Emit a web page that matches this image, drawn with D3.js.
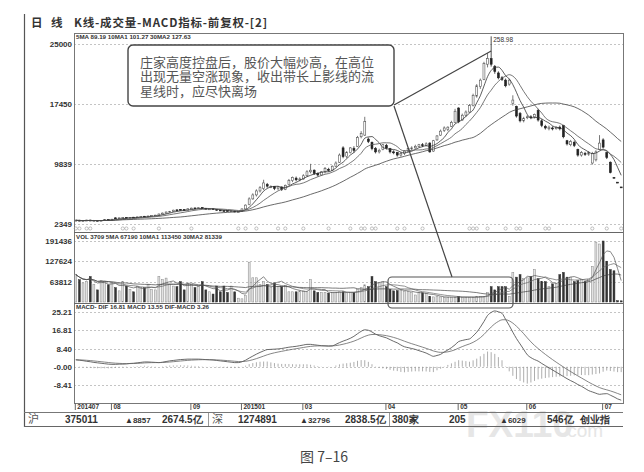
<!DOCTYPE html>
<html><head><meta charset="utf-8">
<script src="https://cdn.jsdelivr.net/npm/d3@7/dist/d3.min.js"></script>
<style>body{margin:0;background:#fff}svg{display:block}</style>
</head><body>
<svg id="c" width="644" height="472"></svg>
<script>
// ---------------- DATA ----------------
const opens = [27.6,28.3,27.3,27.8,28.4,27.5,28.1,27.4,28.0,29.0,28.3,31.2,30.4,31.1,31.8,31.0,32.0,31.4,32.3,33.2,
32.6,33.5,34.0,34.5,36.0,37.1,38.4,39.3,41.2,41.8,41.6,40.9,42.5,43.6,42.8,44.0,43.2,42.2,42.6,41.7,
41.0,40.4,40.2,39.8,39.8,38.6,39.2,42.4,48,55,60,65,68,73,69.5,70.5,68,70,67,73,
78,81,79,80,84,89,91,87,85,89,92,91,96,101,119,108,113,118,121,133,
135,130,126,118,114,117,122,118,114,113,110,112,115,118,119,121,123,122,125,115,
129,135,141,142,146,151,169,154,160,164,172,184,196,205,224,231,221,213,207,204,
199,175,171,162,153,157,158,158,166,153,146,143,144,143,145,147,128,123,126,117,
110,112,111,100,104,117,129,113,101,82,76,70];
const highs = [28.8,28.7,28.2,28.8,28.9,28.4,28.4,28.5,29.4,29.5,29.9,31.8,31.6,32.2,32.2,32.1,32.4,32.8,33.5,33.6,
33.9,34.4,35.0,36.6,37.8,39.2,39.9,41.5,41.9,42.3,42.0,43.1,44.0,44.2,44.5,44.6,43.6,43.0,43.0,42.1,
41.4,40.8,40.6,40.5,40.1,39.6,43.0,48.0,57,62,67,71,79,75,72,71,71,70.5,73,80,
83,83,82,86,91,99,92,88,90,95,94,97,102,112,121,115,120,121,134,140,
158,132,127,120,118,124,124,119,116,114,114,116,119,121,123,124,125,126,126,129,
135,142,146,146,153,168,170,162,166,174,187,199,206,227,238,258.98,223,215,209,206,
206,185,172,164,158,160,160,162,168,155,148,147,146,146,147,148,129,129,128,118,
115,114,115,114,116,135,131,114,102,82,76,70];
const lows = [27.2,27.0,26.9,27.5,27.3,27.2,27.0,27.2,27.8,27.9,28.1,30.1,30.2,30.8,30.7,30.8,31.1,31.2,32.0,32.2,
32.4,33.2,33.7,34.3,35.6,36.8,38.0,39.0,39.8,40.6,40.3,40.6,42.2,42.4,42.5,42.8,41.8,41.9,41.2,40.4,
39.8,39.2,39.5,39.4,38.2,38.3,38.8,41.8,47,54,58,63,66,69,68.5,66,66,65,66,72,
76,77,77,79,83,87,85,83,84,87,89,90,95,100,106,106,112,113,120,131,
134,125,116,112,112,116,117,112,111,108,108,110,114,116,118,120,120,121,113,114,
128,134,139,140,145,150,150,153,158,163,171,182,193,204,220,221,212,205,203,195,
197,172,157,151,151,155,155,156,152,145,142,141,141,142,141,131,122,121,120,108,
108,109,109,98,102,116,118,105,87,82,76,70];
const closes = [28.2,27.4,27.8,28.3,27.6,28.0,27.3,28.1,28.9,28.2,29.5,30.4,31.2,31.6,31.0,31.8,31.4,32.4,33.0,32.6,
33.5,34.0,34.6,36.0,37.2,38.5,39.4,40.8,40.2,41.0,40.8,42.6,43.4,42.8,43.9,43.1,42.2,42.5,41.6,40.8,
40.2,39.6,39.9,40.0,38.6,39.0,42.4,47.2,55,60,65,69,75,71,70.5,68,70,67,72,78,
82,79,80,84,89,91,87,85,89,93,91,96,100,110,108,113,119,116,132,137,
152,127,118,114,116,123,119,114,113,110,112,115,118,119,121,123,122,124,114,128,
134,140,144,145,151,165,152,160,164,172,185,197,204,225,231,224,215,207,205,197,
204,179,159,153,156,158,157,161,154,147,144,145,143,145,143,133,124,127,122,110,
113,111,113,112,114,125,120,107,88,82,76,70];
const volumes = [86000,70000,60000,65000,80000,55000,38000,67000,65000,54000,60000,45000,35000,64000,50000,40000,32000,50000,45000,45000,
55000,40000,38000,80000,70000,75000,55000,50000,48000,64000,38000,60000,55000,45000,50000,64000,38000,32000,25000,50000,
32000,50000,30000,50000,32000,12000,10000,20000,125000,76000,76000,55000,64000,55000,45000,60000,48000,48000,52000,32000,
32000,32000,35000,35000,32000,70000,35000,30000,30000,30000,28000,30000,30000,32000,32000,29000,30000,30000,40000,45000,
54000,48000,80000,64000,60000,64000,48000,40000,35000,36000,36000,34000,33000,30000,22000,29000,29000,26000,18000,16000,
17000,16000,14000,15000,15000,15000,18000,14000,15000,15000,15000,18000,18000,18000,30000,48000,38000,48000,48000,48000,
18000,93000,78000,86000,73000,76000,80000,102000,73000,64000,64000,48000,57000,57000,86000,93000,78000,78000,64000,67000,
70000,64000,70000,112000,188000,182000,191436,128000,102000,98000,4241,3709];
const difValues = [3.2,3.0,2.8,2.5,2.3,2.0,1.8,1.6,1.4,1.2,1.1,1.1,1.2,1.2,1.3,1.5,1.6,1.8,2.0,2.2,
2.2,2.1,2.0,1.9,2.1,2.4,2.7,2.9,3.1,3.3,3.4,3.5,3.5,3.5,3.5,3.4,3.3,3.2,3.1,2.9,
2.7,2.5,2.3,2.1,1.9,1.9,2.3,3.0,4.0,4.9,5.8,6.6,7.3,7.9,8.0,8.1,8.2,8.4,8.7,9.0,
9.2,9.4,9.7,10.0,10.3,10.3,10.1,9.9,9.7,9.6,9.5,9.6,10.3,11.1,11.8,12.4,13.1,14.0,15.2,16.3,
17.0,16.8,16.0,15.0,14.3,13.8,13.3,12.5,11.7,11.0,10.0,9.2,8.8,8.4,8.0,7.4,6.9,6.3,5.5,4.8,
5.2,5.7,6.8,7.7,8.8,10.1,11.6,12.1,12.5,12.8,14.2,15.9,18.2,20.8,23.6,25.0,25.7,25.3,24.6,21.8,
19.0,15.9,13.0,10.5,8.0,5.5,4.2,3.3,2.6,1.5,0.5,-0.5,-1.5,-2.5,-3.5,-4.5,-5.5,-6.4,-7.2,-8.2,
-9.0,-10.0,-11.0,-11.6,-12.2,-12.7,-12.5,-12.4,-13.1,-13.9,-14.8,-15.4];
const eventIdx = [0,1,3,4,13,14,16,23,32,45,47,50,56,58,63,70,76,79,80,82,83,89,91,96,109,110,111,114,119,122,123,130,131,143,147,151];

const priceTicks = [25000,17450,9839,2349];
const volTicks = [191436,127624,63812];
const macdTicks = [25.21,16.81,8.40,0,-8.41];
const macdTickLabels = ["25.21","16.81","8.40","-0.00","-8.41"];
const dateIdx = [0,10,32,46,63,86,106,125,146];
const dateLabels = ["201407","08","09","201501","03","04","05","06","07"];

const titleParts = ["日","线","K线-成交量-MACD指标-前复权-[2]"];
const priceLegend = "5MA 89.19   10MA1 101.27   30MA2 127.63";
const volLegend = "VOL 3709   5MA 67190   10MA1 113450   30MA2 81339";
const macdLegend = "MACD- DIF 16.81   MACD 13.55   DIF-MACD 3.26";
const noteLines = ["庄家高度控盘后，股价大幅炒高，在高位","出现无量空涨现象，收出带长上影线的流","星线时，应尽快离场"];
const statusLabels = ["沪","375011","▲8857","2674.5亿","深","1274891","▲32796","2838.5亿","380家","205","▲6029","546亿","创业指"];
const watermark = ["FX110", ".com"];
const caption = "图 7–16";
const peakIdx = 115;

// ---------------- LAYOUT ----------------
const svg = d3.select("#c");
const N = closes.length;
const L = 74, R = 623;
const pT = 33, pB = 232, vB = 303, mB = 403;
const x = d3.scaleBand().domain(d3.range(N)).range([L, R]).paddingInner(0.3).paddingOuter(0.15);
const bw = x.bandwidth();
const cx = i => x(i) + bw / 2;
const yP = d3.scaleLinear().domain([23.49, 250]).range([224, 43.5]);
const yV = d3.scaleLinear().domain([0, 191436]).range([302, 241]);
const yM = d3.scaleLinear().domain([-8.41, 25.21]).range([385, 312]);
const num = "'Liberation Sans', Arial, sans-serif";
const cjk = "'Noto Sans CJK SC', sans-serif";

const defs = svg.append("defs");
[["cp", pT, pB], ["cv", pB, vB], ["cm", vB, mB]].forEach(([id, a, b]) => {
  defs.append("clipPath").attr("id", id).append("rect").attr("x", L).attr("y", a).attr("width", R - L).attr("height", b - a);
});

// watermark (behind everything)
svg.append("text").attr("x", 466).attr("y", 437).text(watermark[0]).attr("font-family", num).attr("font-size", 37)
  .attr("font-weight", 700).attr("fill", "#e6e6e6");
svg.append("text").attr("x", 562).attr("y", 437).text(watermark[1]).attr("font-family", num).attr("font-size", 19)
  .attr("fill", "#e6e6e6");

// left border line
svg.append("line").attr("x1", 24.5).attr("x2", 24.5).attr("y1", 14).attr("y2", 427).attr("stroke", "#555").attr("stroke-width", 1.2);

// title
svg.append("text").attr("x", 31).attr("y", 27).text(titleParts[0]).attr("font-family", cjk).attr("font-size", 11.5).attr("font-weight", 700).attr("fill", "#333");
svg.append("text").attr("x", 51).attr("y", 27).text(titleParts[1]).attr("font-family", cjk).attr("font-size", 11.5).attr("font-weight", 700).attr("fill", "#333");
svg.append("text").attr("x", 74).attr("y", 27).text(titleParts[2]).attr("font-family", cjk).attr("font-size", 11.5).attr("font-weight", 700).attr("fill", "#333").attr("textLength", 193);

// gridlines
function grid(scale, vals) {
  svg.append("g").selectAll("line").data(vals).join("line")
    .attr("x1", L).attr("x2", R).attr("y1", d => Math.round(scale(d)) + 0.5).attr("y2", d => Math.round(scale(d)) + 0.5)
    .attr("stroke", "#aaa").attr("stroke-width", 0.7).attr("stroke-dasharray", "2,2");
}
grid(yP, priceTicks.map(v => v / 100));
grid(yV, volTicks);
grid(yM, macdTicks);

// axes labels
function yaxis(scale, vals, labels) {
  const ax = d3.axisLeft(scale).tickValues(vals).tickSize(0).tickPadding(2).tickFormat((d, i) => labels[i]);
  const g = svg.append("g").attr("transform", `translate(${L},0)`).call(ax);
  g.select(".domain").remove();
  g.selectAll("text").attr("font-family", num).attr("font-size", 8).attr("font-weight", 700).attr("fill", "#333");
}
yaxis(yP, priceTicks.map(v => v / 100), priceTicks.map(String));
yaxis(yV, volTicks, volTicks.map(String));
yaxis(yM, macdTicks, macdTickLabels);

// pane frame
svg.append("rect").attr("x", L + 0.5).attr("y", pT + 0.5).attr("width", R - L).attr("height", mB - pT).attr("fill", "none").attr("stroke", "#777").attr("stroke-width", 1);
[pB, vB].forEach(yy => svg.append("line").attr("x1", L).attr("x2", R).attr("y1", yy + 0.5).attr("y2", yy + 0.5).attr("stroke", "#666"));

// moving averages
function ma(arr, n) { return arr.map((_, i) => d3.mean(arr.slice(Math.max(0, i - n + 1), i + 1))); }
const up = i => closes[i] > opens[i];

// ---- price pane
const gp = svg.append("g").attr("clip-path", "url(#cp)");
gp.selectAll(".wick").data(d3.range(N)).join("line")
  .attr("x1", cx).attr("x2", cx).attr("y1", i => yP(highs[i])).attr("y2", i => yP(lows[i]))
  .attr("stroke", i => up(i) ? "#555" : "#222").attr("stroke-width", 0.8);
gp.selectAll(".body").data(d3.range(N)).join("rect")
  .attr("x", i => x(i) + 0.3).attr("width", bw - 0.6)
  .attr("y", i => yP(Math.max(opens[i], closes[i])))
  .attr("height", i => Math.max(0.9, Math.abs(yP(opens[i]) - yP(closes[i]))))
  .attr("fill", i => up(i) ? "#fff" : "#222")
  .attr("stroke", i => up(i) ? "#555" : "#222").attr("stroke-width", 0.6);
[[5, "#333"], [10, "#555"], [30, "#444"]].forEach(([n, c]) => {
  gp.append("path").datum(ma(closes, n)).attr("fill", "none").attr("stroke", c).attr("stroke-width", 0.8)
    .attr("d", d3.line().x((d, i) => cx(i)).y(d => yP(d)).curve(d3.curveMonotoneX));
});
// peak label
gp.append("text").attr("x", cx(peakIdx) + 2).attr("y", yP(highs[peakIdx]) + 6)
  .text(d3.format(".2f")(highs[peakIdx])).attr("font-family", num).attr("font-size", 6.5).attr("fill", "#333");
// event markers
svg.append("g").selectAll("circle").data(eventIdx).join("circle")
  .attr("cx", cx).attr("cy", 228.5).attr("r", 1.6).attr("fill", "none").attr("stroke", "#999").attr("stroke-width", 0.6);

// ---- volume pane
const gv = svg.append("g").attr("clip-path", "url(#cv)");
gv.selectAll("rect").data(d3.range(N)).join("rect")
  .attr("x", i => x(i) + 0.3).attr("width", bw - 0.6)
  .attr("y", i => yV(volumes[i])).attr("height", i => yV(0) - yV(volumes[i]))
  .attr("fill", i => up(i) ? "#e2e2e2" : "#333")
  .attr("stroke", i => up(i) ? "#888" : "#333").attr("stroke-width", 0.5);
[[5, "#555"], [10, "#666"], [30, "#444"]].forEach(([n, c]) => {
  gv.append("path").datum(ma(volumes, n)).attr("fill", "none").attr("stroke", c).attr("stroke-width", 0.7)
    .attr("d", d3.line().x((d, i) => cx(i)).y(d => yV(d)));
});

// ---- MACD pane
const dea = [];
difValues.forEach((d, i) => dea.push(i === 0 ? d : dea[i - 1] * 0.8 + d * 0.2));
const gm = svg.append("g").attr("clip-path", "url(#cm)");
gm.selectAll("line").data(d3.range(N)).join("line")
  .attr("x1", cx).attr("x2", cx).attr("y1", yM(0)).attr("y2", i => yM(difValues[i] - dea[i]))
  .attr("stroke", "#999").attr("stroke-width", 0.8);
[[difValues, "#444"], [dea, "#666"]].forEach(([arr, c]) => {
  gm.append("path").datum(arr).attr("fill", "none").attr("stroke", c).attr("stroke-width", 0.8)
    .attr("d", d3.line().x((d, i) => cx(i)).y(d => yM(d)).curve(d3.curveMonotoneX));
});

// legends
[[priceLegend, 39], [volLegend, 239], [macdLegend, 309]].forEach(([t, yy]) => {
  svg.append("text").attr("x", 76).attr("y", yy).text(t).attr("font-family", num).attr("font-size", 6.2)
    .attr("font-weight", 700).attr("fill", "#333");
});

// date axis
const dax = d3.axisBottom(d3.scalePoint().domain(d3.range(N)).range([cx(0), cx(N - 1)]))
  .tickValues(dateIdx).tickSize(7).tickFormat((d, i) => dateLabels[i]);
const gd = svg.append("g").attr("transform", `translate(0,${mB})`).call(dax);
gd.select(".domain").remove();
gd.selectAll("line").attr("stroke", "#666").attr("transform", "translate(-1,0)");
gd.selectAll("text").attr("text-anchor", "start").attr("dx", 1).attr("y", 2).attr("dy", "0.6em")
  .attr("font-family", num).attr("font-size", 6.5).attr("font-weight", 700).attr("fill", "#333");

// status bar
svg.append("line").attr("x1", 24).attr("x2", R).attr("y1", 412.5).attr("y2", 412.5).attr("stroke", "#777");
svg.append("line").attr("x1", 24).attr("x2", R).attr("y1", 426.5).attr("y2", 426.5).attr("stroke", "#666");
[208.5, 389.5].forEach(sx => svg.append("line").attr("x1", sx).attr("x2", sx).attr("y1", 413).attr("y2", 426).attr("stroke", "#999"));
const statusX = [28, 65, 125, 162, 212, 238, 300, 345, 392, 449, 500, 547, 580];
statusLabels.forEach((t, i) => {
  const isCjk = i === 0 || i === 4;
  const small = t.startsWith("▲");
  svg.append("text").attr("x", statusX[i]).attr("y", 423).text(t)
    .attr("font-family", isCjk ? cjk : num).attr("font-size", isCjk ? 11 : (small ? 8 : 10))
    .attr("font-weight", isCjk ? 400 : 700).attr("fill", isCjk ? "#555" : "#333");
});

// annotation box + pointer lines
svg.append("line").attr("x1", 394).attr("y1", 105).attr("x2", cx(peakIdx)).attr("y2", 51).attr("stroke", "#444").attr("stroke-width", 1.2);
svg.append("line").attr("x1", 394).attr("y1", 106).attr("x2", 452).attr("y2", 277).attr("stroke", "#444").attr("stroke-width", 1.2);
svg.append("rect").attr("x", 128).attr("y", 45).attr("width", 266).attr("height", 61).attr("rx", 5)
  .attr("fill", "#fff").attr("stroke", "#444").attr("stroke-width", 1.4);
noteLines.forEach((t, i) => {
  svg.append("text").attr("x", 140).attr("y", 67 + i * 14.3).text(t).attr("font-family", cjk)
    .attr("font-size", 13).attr("fill", "#555");
});
svg.append("rect").attr("x", 388).attr("y", 277).attr("width", 125).attr("height", 31).attr("rx", 4)
  .attr("fill", "none").attr("stroke", "#555").attr("stroke-width", 1.2);

// caption
svg.append("text").attr("x", 300).attr("y", 462).text(caption).attr("font-family", cjk).attr("font-size", 14).attr("fill", "#444");
</script>
</body></html>
